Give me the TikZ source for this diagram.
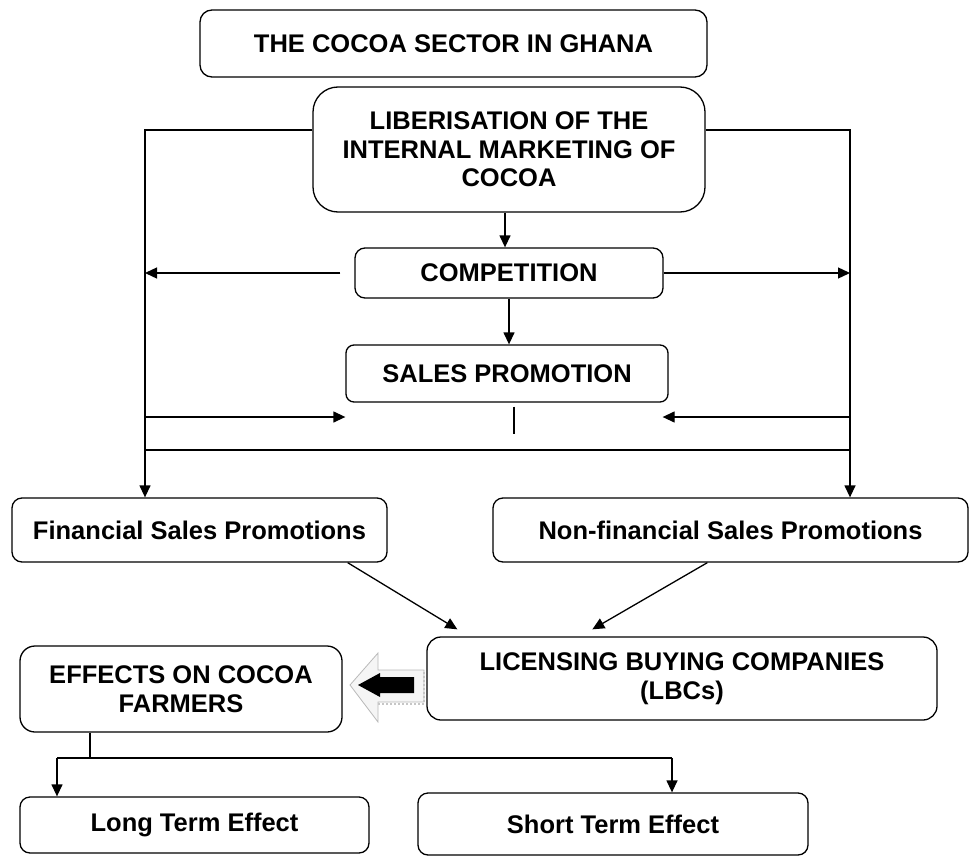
\documentclass[tikz,border=0pt]{standalone}
\usepackage{fontspec}
\setmainfont{Liberation Sans}
\usetikzlibrary{arrows.meta}
\begin{document}
\begin{tikzpicture}[x=1pt,y=-1pt,
  box/.style={draw,line width=1.3pt,rounded corners=#1,align=center,inner sep=0pt,
    font=\fontsize{25.5}{28.5}\selectfont\bfseries},
  box/.default=10pt,
  ln/.style={line width=1.3pt},
  arr/.style={ln,-{Triangle[length=12pt,width=11pt]}}]
\useasboundingbox (0,0) rectangle (979,856);

% boxes
\node[box=12pt,minimum width=507pt,minimum height=67pt] (title) at (453.5,43.5) {THE COCOA SECTOR IN GHANA};
\node[box=25pt,minimum width=392pt,minimum height=125pt] (lib) at (509,149.5) {LIBERISATION OF THE\\INTERNAL MARKETING OF\\COCOA};
\node[box=10pt,minimum width=308pt,minimum height=50pt] (comp) at (509,273) {COMPETITION};
\node[box=8pt,minimum width=322pt,minimum height=57pt] (sales) at (507,373.5) {SALES PROMOTION};
\node[box=10pt,minimum width=375pt,minimum height=64pt] (fin) at (199.5,530) {Financial Sales Promotions};
\node[box=10pt,minimum width=475pt,minimum height=64pt] (nonfin) at (730.5,530) {Non-financial Sales Promotions};
\node[box=14pt,minimum width=510pt,minimum height=83pt] (lbc) at (682,678.5) {LICENSING BUYING COMPANIES\\(LBCs)};
\node[box=15pt,minimum width=322pt,minimum height=86pt] (eff) at (181,689) {EFFECTS ON COCOA\\FARMERS};
\node[box=10pt,minimum width=349pt,minimum height=56pt] (long) at (194.5,825) {Long Term Effect};
\node[box=10pt,minimum width=390pt,minimum height=62pt] (short) at (613,824) {Short Term Effect};

% helper coordinates
\coordinate (LT) at (145,130);
\coordinate (RT) at (850,130);
\coordinate (LB) at (145,450);
\coordinate (RB) at (850,450);
\coordinate (SL) at (145,417);
\coordinate (SR) at (850,417);
\coordinate (EL) at (57,758);
\coordinate (ER) at (672,758);
\coordinate (EM) at (90,758);

% side branches
\draw[arr] (lib.west |- LT) -- (LT) -- (fin.north -| LT);
\draw[arr] (lib.east |- RT) -- (RT) -- (nonfin.north -| RT);
\draw[ln] (LB) -- (RB);

% central chain
\draw[arr] (lib.south -| 505,0) -- (comp.north -| 505,0);
\draw[arr] (comp.south) -- (comp.south |- sales.north);

% competition arrows
\draw[arr] ([xshift=-14pt]comp.west) -- (LT |- comp.west);
\draw[arr] (comp.east) -- (RT |- comp.east);

% sales promotion arrows
\draw[arr] (SL) -- (SL -| sales.west);
\draw[arr] (SR) -- ([xshift=-6pt]SR -| sales.east);
\draw[ln] (sales.south -| 514,0) ++(0,4) -- ++(0,27);

% diagonals to LBC
\draw[arr] ([xshift=-40pt]fin.south east) -- ([xshift=31pt,yshift=7pt]lbc.north west);
\draw[arr] ([xshift=215pt]nonfin.south west) -- ([xshift=166pt,yshift=7pt]lbc.north west);

% block arrow LBC -> effects
\filldraw[fill=gray!8,draw=gray!55,line width=0.8pt]
  (350,685) -- (378,653) -- (378,670) -- (424,670) -- (424,702) -- (378,702) -- (378,722) -- cycle;
\draw[gray!45,line width=2pt,dotted] (378,704) -- (424,704) -- (424,670);
\fill[black] (358,685) -- (380,673) -- (380,677) -- (414,677) -- (414,693) -- (380,693) -- (380,697) -- cycle;

% effects branches
\draw[ln] (eff.south -| EM) -- (EM);
\draw[ln] (EL) -- (ER);
\draw[arr] (EL) -- (EL |- long.north);
\draw[arr] (ER) -- (ER |- short.north);
\end{tikzpicture}
\end{document}
